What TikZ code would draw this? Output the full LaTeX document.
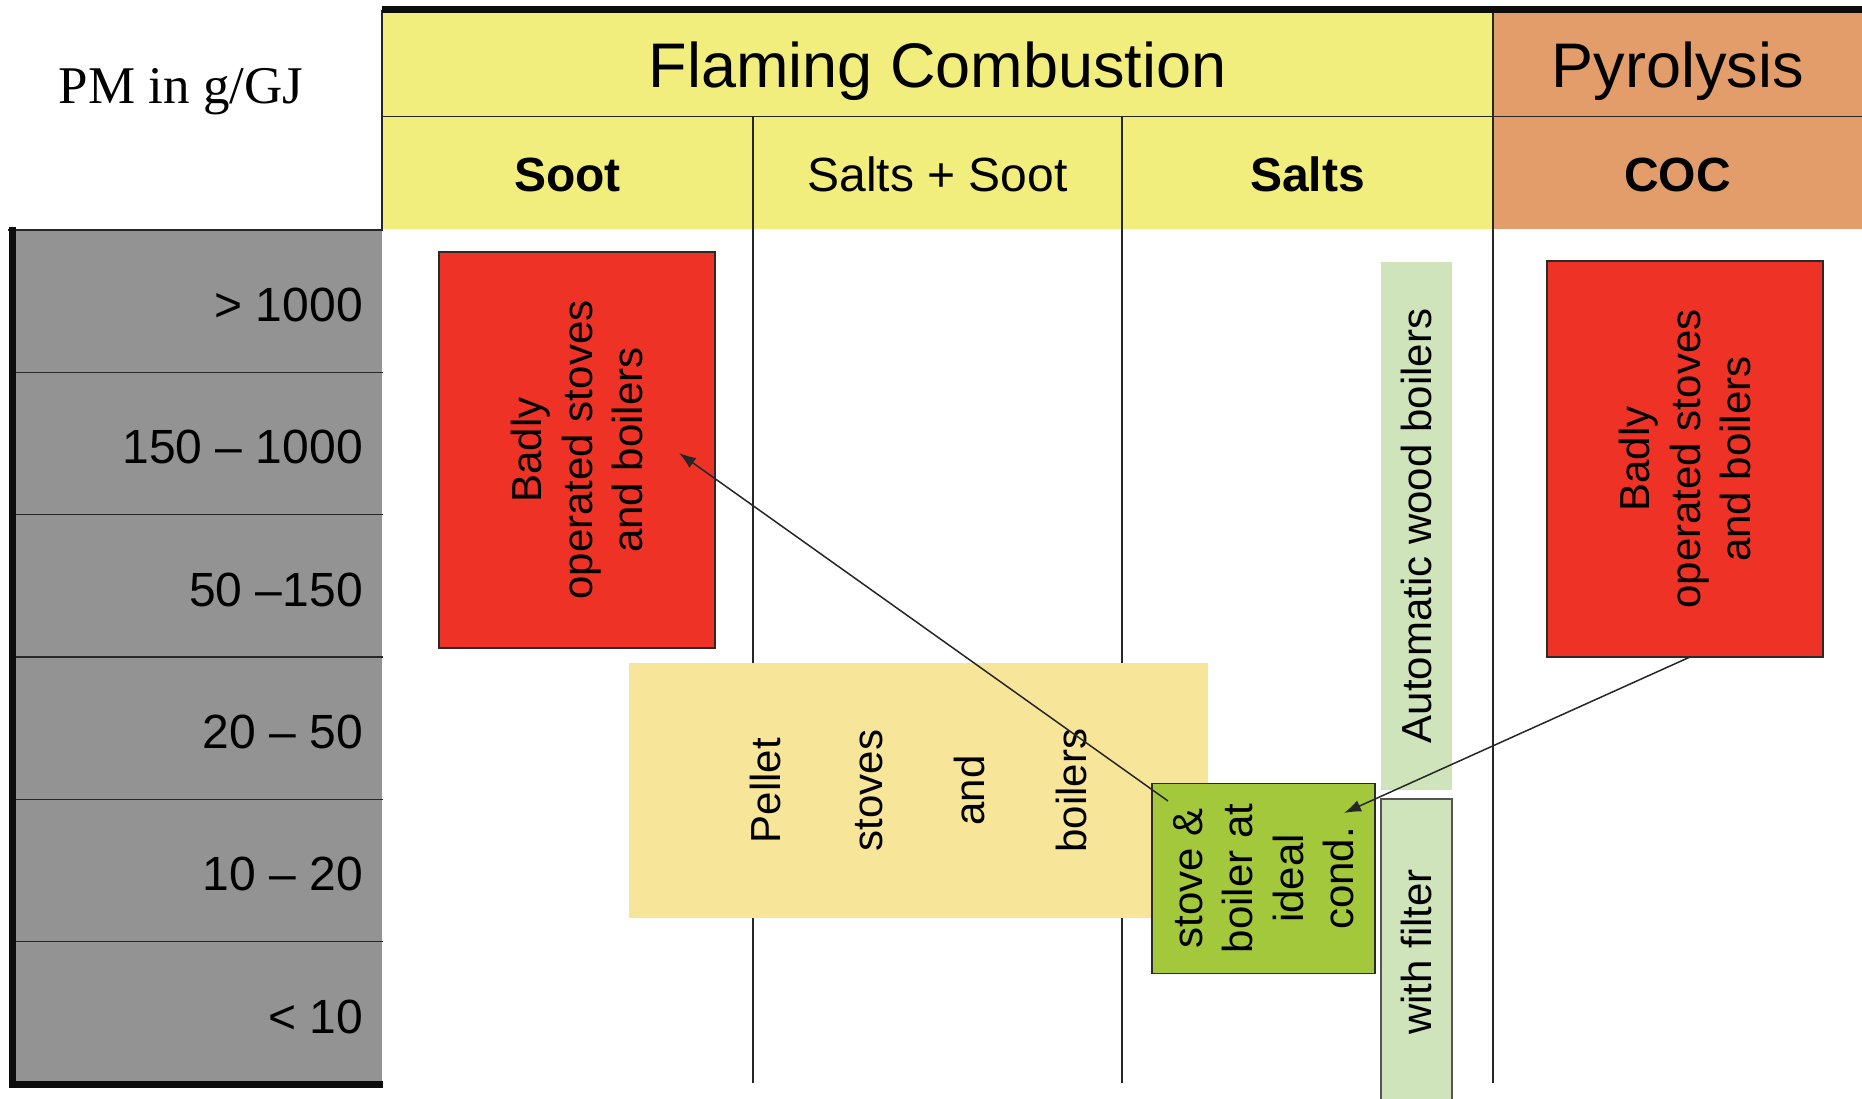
\documentclass[tikz,border=0pt]{standalone}
\usepackage{fontspec}
\setmainfont{Liberation Sans}
\newfontfamily\pmserif{Liberation Serif}
\usetikzlibrary{arrows.meta,calc}
\definecolor{hdryellow}{HTML}{F2EE7D}
\definecolor{hdrorange}{HTML}{E39D6A}
\definecolor{pmgray}{HTML}{939393}
\definecolor{badred}{HTML}{EE3226}
\definecolor{pelletyellow}{HTML}{F7E599}
\definecolor{stovegreen}{HTML}{A3C83B}
\definecolor{autogreen}{HTML}{CFE4BB}
\definecolor{edgegray}{HTML}{2A2A2A}
\begin{document}
\begin{tikzpicture}[x=1pt,y=-1pt,
  gridline/.style={line width=1.5pt, draw=black!85},
  thickline/.style={line width=7pt, draw=black!95},
  bigtxt/.style={font=\fontsize{63}{72}\selectfont, inner sep=0},
  midtxt/.style={font=\fontsize{48}{56}\selectfont, inner sep=0},
  vbox/.style={rectangle, inner sep=0, align=center, rotate=90,
    font=\fontsize{42}{50.5}\selectfont},
  redbox/.style={vbox, fill=badred, draw=edgegray, line width=1.6pt},
  conn/.style={line width=1.5pt, draw=black!85, -{Latex[length=17pt,width=12pt]}}
]
\useasboundingbox (0,0) rectangle (1862,1099);

% header fills
\fill[hdryellow] (382,13) rectangle (1493,229);
\fill[hdrorange] (1493,13) rectangle (1862,229);
% gray scale column
\fill[pmgray] (12,230) rectangle (382,1084);

% grid lines
\draw[gridline] (382,116.5) -- (1862,116.5);
\draw[gridline] (382,10) -- (382,230);
\draw[gridline] (8,230) -- (383,230);
\foreach \k in {1,...,5} {
  \draw[gridline] (12,{230+142.33*\k}) -- (383,{230+142.33*\k});
}
\draw[gridline] (753,116.5) -- (753,1083);
\draw[gridline] (1122,116.5) -- (1122,1083);
\draw[gridline] (1493,13) -- (1493,1083);
\draw[thickline] (12,227) -- (12,1087.5);
\draw[thickline] (8.5,1084) -- (383,1084);
\draw[thickline] (382,9.5) -- (1862,9.5);

% title texts
\node[font=\pmserif\fontsize{53}{60}\selectfont, inner sep=0, anchor=base] (pm) at (181,104) {PM in g/GJ};
\node[bigtxt, anchor=base] (flaming) at (937.5,88) {Flaming Combustion};
\node[bigtxt, anchor=base] (pyro) at (1677.5,88) {Pyrolysis};
\node[midtxt, anchor=base] (soot) at (567.5,192) {\bfseries Soot};
\node[midtxt, anchor=base] (saltsoot) at (937.5,192) {Salts + Soot};
\node[midtxt, anchor=base] (salts) at (1307.5,192) {\bfseries Salts};
\node[midtxt, anchor=base] (coc) at (1677.5,192) {\bfseries COC};

% row labels
\node[midtxt, anchor=base east] (r1) at (363,321.5) {> 1000};
\node[midtxt, anchor=base east] (r2) at (363,463.8) {150 -- 1000};
\node[midtxt, anchor=base east] (r3) at (363,606.1) {50 --150};
\node[midtxt, anchor=base east] (r4) at (363,748.4) {20 -- 50};
\node[midtxt, anchor=base east] (r5) at (363,890.7) {10 -- 20};
\node[midtxt, anchor=base east] (r6) at (363,1033) {< 10};

% boxes
\node[redbox, minimum width=396, minimum height=276] (bad1) at (577,450)
  {Badly\\operated stoves\\and boilers};
\node[redbox, minimum width=396, minimum height=276] (bad2) at (1685,459)
  {Badly\\operated stoves\\and boilers};
\node[vbox, fill=autogreen, minimum width=528, minimum height=71] (auto) at (1416.5,526)
  {Automatic wood boilers};
\node[vbox, fill=autogreen, draw=edgegray!80, line width=1.6pt, minimum width=306, minimum height=71] (filter) at (1416.5,952)
  {with filter};
\node[vbox, fill=pelletyellow, minimum width=255, minimum height=579,
  font=\fontsize{42}{102}\selectfont] (pellet) at (918.5,790.5)
  {Pellet\\stoves\\and\\boilers};
\node[vbox, fill=stovegreen, draw=edgegray, line width=1.8pt, minimum width=190, minimum height=223] (stove) at (1263.5,878.5)
  {stove \&\\boiler at\\ideal\\cond.};

% connectors
\coordinate (a1s) at ($(stove.center)+(-95.5,-77.5)$);
\coordinate (a1e) at ($(bad1.center)+(102,3)$);
\coordinate (a2s) at ($(bad2.center)+(5,198)$);
\coordinate (a2e) at ($(stove.center)+(80.5,-65.5)$);
\draw[conn] (a1s) -- (a1e);
\draw[conn] (a2s) -- (a2e);
\end{tikzpicture}
\end{document}
